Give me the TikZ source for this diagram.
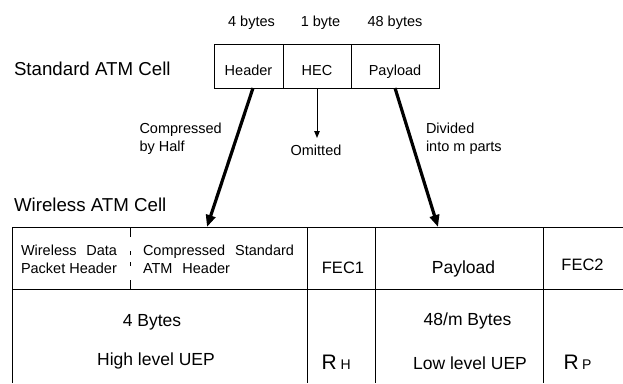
\documentclass[tikz,border=0pt]{standalone}
\usepackage{fontspec}
\setmainfont{Liberation Sans}
\usetikzlibrary{arrows.meta}
\begin{document}
\begin{tikzpicture}[x=1pt,y=1pt,
  txt/.style={inner sep=0pt, outer sep=0pt},
  small/.style={txt, font=\fontsize{14.5}{17}\selectfont},
  big/.style={txt, font=\fontsize{18.7}{22}\selectfont},
  tab/.style={txt, font=\fontsize{17.5}{21}\selectfont},
  fec/.style={txt, font=\fontsize{16.5}{20}\selectfont},
  rbig/.style={txt, font=\fontsize{21}{25}\selectfont},
  cellbox/.style={draw, line width=1pt, inner sep=0pt, outer sep=0pt, minimum height=44pt, anchor=north west},
  tabline/.style={line width=0.9pt},
  heavy/.style={line width=3.2pt, -{Triangle[length=12pt,width=9.5pt]}},
  thin/.style={line width=1pt, -{Triangle[length=7pt,width=5.5pt]}}
]
\useasboundingbox (0,0) rectangle (623,-383);

% standard ATM cell
\node[big, anchor=base west] (stdlbl) at (14,-75) {Standard ATM Cell};
\node[cellbox, minimum width=69pt] (hdr) at (214,-44) {};
\node[cellbox, minimum width=68pt] (hec) at (283,-44) {};
\node[cellbox, minimum width=88pt] (pay) at (351,-44) {};
\node[small, anchor=base] (hdrT) at (248.5,-75) {Header};
\node[small, anchor=base] (hecT) at (317,-75) {HEC};
\node[small, anchor=base] (payT) at (395,-75) {Payload};
\node[small, anchor=base] (b4) at (251.5,-26) {4 bytes};
\node[small, anchor=base] (b1) at (320.5,-26) {1 byte};
\node[small, anchor=base] (b48) at (395,-26) {48 bytes};

% connector labels
\node[small, anchor=base west] (c1) at (139.5,-133) {Compressed};
\node[small, anchor=base west] (c2) at (139.5,-151) {by Half};
\node[small, anchor=base] (om) at (316,-155) {Omitted};
\node[small, anchor=base west] (d1) at (426,-133) {Divided};
\node[small, anchor=base west] (d2) at (426,-151) {into m parts};

% wireless ATM cell
\node[big, anchor=base west] (wlbl) at (14,-211) {Wireless ATM Cell};
\coordinate (wtl) at (12,-227);
\coordinate (wtr) at (623,-227);
\coordinate (wml) at (12,-289);
\coordinate (wmr) at (623,-289);
\coordinate (wbl) at (12,-383);
\coordinate (hitL) at (207,-227);
\coordinate (hitR) at (438,-227);

\draw[tabline] (wtl) -- (wtr);
\draw[tabline] (wml) -- (wmr);
\draw[tabline] (wtl) -- (wbl);
\draw[tabline, dash pattern=on 10pt off 14pt on 4pt off 7pt on 4pt off 14pt on 20pt] (130,-227) -- (130,-289);
\draw[tabline] (307,-227) -- (307,-383);
\draw[tabline] (375,-227) -- (375,-383);
\draw[tabline] (543,-227) -- (543,-383);

\node[small, anchor=base west] (w1) at (21,-255) {\makebox[96pt][s]{Wireless Data}};
\node[small, anchor=base west] (w2) at (21,-273) {Packet Header};
\node[small, anchor=base west] (w3) at (143,-255) {\makebox[151pt][s]{Compressed Standard}};
\node[small, anchor=base west] (w4) at (143,-273) {\makebox[87pt][s]{ATM Header}};
\node[fec, anchor=base] (f1) at (343,-273) {FEC1};
\node[tab, anchor=base] (wp) at (463.5,-273) {Payload};
\node[fec, anchor=base] (f2) at (582.5,-270) {FEC2};

\node[tab, anchor=base] (by4) at (152,-326) {4 Bytes};
\node[tab, anchor=base] (hl) at (156,-365) {High level UEP};
\node[tab, anchor=base] (by48) at (467.5,-325) {48/m Bytes};
\node[tab, anchor=base] (ll) at (470,-369) {Low level UEP};
\node[rbig, anchor=base west] (rh) at (321.5,-369) {R\hspace{4pt}\fontsize{14}{17}\selectfont H};
\node[rbig, anchor=base west] (rp) at (563.5,-369) {R\hspace{3.5pt}\fontsize{14}{17}\selectfont P};

% connectors
\draw[heavy] ([xshift=4.5pt]hdr.south) -- (hitL);
\draw[thin] (hec.south) -- ++(0,-50);
\draw[heavy] (pay.south) -- (hitR);
\end{tikzpicture}
\end{document}
